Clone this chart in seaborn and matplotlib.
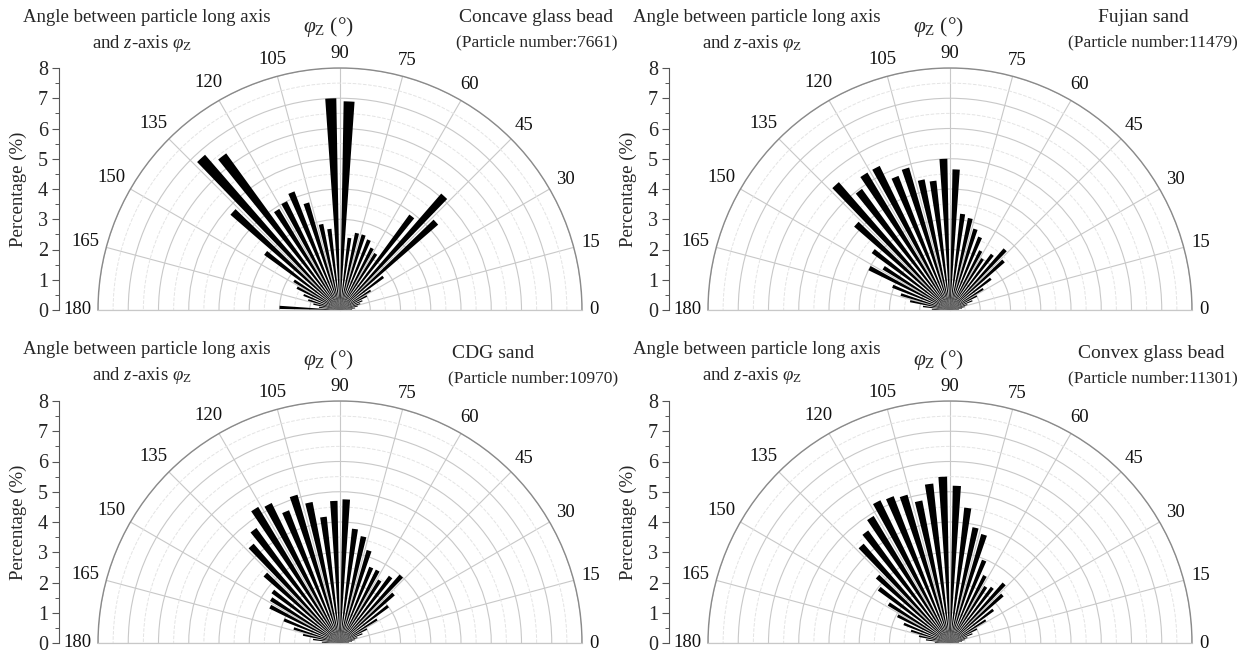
import numpy as np
import pandas as pd
import matplotlib
matplotlib.use("Agg")
import matplotlib.pyplot as plt
import seaborn as sns
from matplotlib.ticker import MultipleLocator, FixedLocator

# 5-degree orientation bins (bin centres, degrees)
bin_centers = np.arange(2.5, 180, 5)

# Percentage of particles per bin, ordered from 2.5 to 177.5 degrees
concave_glass_bead = [0.4, 0.5, 0.6, 0.7, 0.8, 1.0, 1.2, 1.8, 4.3, 5.1, 3.9, 2.2,
                      2.3, 2.5, 2.6, 2.6, 2.4, 6.9, 7.0, 2.7, 2.9, 3.7, 4.2, 4.0,
                      3.9, 6.4, 6.8, 4.8, 3.1, 1.8, 1.6, 1.3, 1.1, 0.9, 0.7, 2.0]
fujian_sand = [0.3, 0.4, 0.5, 0.6, 0.8, 1.0, 1.3, 1.7, 2.4, 2.7, 2.3, 2.0,
               2.2, 2.6, 2.8, 3.1, 3.2, 4.65, 5.0, 4.3, 4.4, 4.9, 4.75, 5.3,
               5.3, 4.95, 5.6, 4.2, 3.2, 2.6, 3.0, 2.05, 1.7, 1.35, 0.9, 0.6]
cdg_sand = [0.3, 0.4, 0.5, 0.6, 0.8, 1.0, 1.45, 2.0, 2.4, 3.0, 2.75, 2.45,
            2.7, 2.7, 3.2, 3.6, 3.8, 4.75, 4.7, 4.2, 4.75, 5.1, 4.7, 5.15,
            5.25, 4.7, 4.35, 3.35, 2.8, 2.7, 2.6, 2.0, 1.6, 1.25, 0.9, 0.6]
convex_glass_bead = [0.3, 0.4, 0.5, 0.6, 0.8, 1.0, 1.4, 1.8, 2.35, 2.65, 2.3, 2.2,
                     2.5, 2.95, 3.75, 3.9, 4.5, 5.2, 5.5, 5.3, 4.8, 5.1, 5.2, 5.25,
                     4.9, 4.6, 4.35, 3.25, 2.95, 2.4, 1.95, 1.65, 1.35, 1.05, 0.8, 0.5]

panel_values = [concave_glass_bead, fujian_sand, cdg_sand, convex_glass_bead]
panel_names = ["Concave glass bead", "Fujian sand", "CDG sand", "Convex glass bead"]
particle_counts = [7661, 11479, 10970, 11301]

theta_ticks = list(range(0, 181, 15))
r_ticks = list(range(0, 9))

sns.set_theme(style="white")
plt.rcParams["font.family"] = ["Liberation Serif", "DejaVu Serif"]
plt.rcParams["mathtext.fontset"] = "custom"
plt.rcParams["mathtext.rm"] = "Liberation Serif"
plt.rcParams["mathtext.it"] = "Liberation Serif:italic"

W, H = 1242, 657
fig = plt.figure(figsize=(W / 100, H / 100), dpi=100)
fig.patch.set_facecolor("white")

R = 242              # radius of the rose in pixels
PX_PER_PCT = R / 8   # pixels per percentage unit along the radius
THETA_FS = 13.5      # angle label size (pt)
centers = [(340, 310), (950, 310), (340, 643), (950, 643)]
# sample name: (x, y, horizontal alignment); particle count line is right-aligned
name_pos = [(613, 17, "right"), (1143, 17, "center"),
            (493, 353, "center"), (1151, 353, "center")]
count_pos = [(618, 42), (1238, 42), (618, 378), (1238, 378)]


def fx(x):
    return x / W


def fy(y):
    return 1 - y / H


def label_radius(angle_deg, text):
    """Radius (data units) that keeps an angle label a fixed gap outside the rim."""
    em = THETA_FS * 100 / 72
    half_w = 0.5 * len(text) * 0.45 * em
    half_h = 0.36 * em
    a = np.deg2rad(angle_deg)
    reach = abs(np.cos(a)) * half_w + abs(np.sin(a)) * half_h
    return 8 + (8 + reach) / PX_PER_PCT


for i, (cx, cy) in enumerate(centers):
    dx, dy = cx - 340, cy - 310

    # A half-circle polar axes is laid out inside a square box whose
    # middle half holds the wedge.
    ax = fig.add_axes([fx(cx - R), fy(cy + R / 2), 2 * R / W, 2 * R / H],
                      projection="polar")
    ax.set_thetamin(0)
    ax.set_thetamax(180)

    df = pd.DataFrame({"theta": np.deg2rad(bin_centers), "pct": panel_values[i]})
    sns.barplot(data=df, x="theta", y="pct", orient="x", native_scale=True,
                width=0.6, color="black", saturation=1, errorbar=None,
                linewidth=0, ax=ax, zorder=3)

    ax.set_xlabel("")
    ax.set_ylabel("")
    ax.set_rlim(0, 8)
    ax.set_rticks(r_ticks)
    ax.set_yticklabels([])
    ax.yaxis.set_minor_locator(MultipleLocator(0.5))
    ax.set_thetagrids(theta_ticks, labels=[""] * len(theta_ticks))
    ax.xaxis.set_minor_locator(FixedLocator(np.deg2rad(np.arange(7.5, 180, 15))))
    ax.tick_params(axis="x", which="minor", length=3, direction="in",
                   color="#888888")
    ax.grid(which="major", color="#c8c8c8", lw=0.8, ls="-")
    ax.grid(which="minor", axis="y", color="#e4e4e4", lw=0.7, ls="--")
    ax.set_axisbelow(True)
    ax.spines["polar"].set_color("#8a8a8a")
    ax.spines["polar"].set_linewidth(1.0)
    for s in ("start", "end"):
        ax.spines[s].set_color("#c8c8c8")
        ax.spines[s].set_linewidth(0.9)
    ax.spines["inner"].set_visible(False)
    ax.set_facecolor("white")

    # angle labels centred just outside the rim
    for t in theta_ticks:
        ax.text(np.deg2rad(t), label_radius(t, str(t)), str(t),
                ha="center", va="center", fontsize=THETA_FS,
                color="#111111", clip_on=False)

    # Linear percentage scale on the left of each rose
    yax = fig.add_axes([fx(cx - 281), fy(cy), 0.0005, R / H])
    yax.set_ylim(0, 8)
    yax.set_yticks(r_ticks)
    yax.yaxis.set_minor_locator(MultipleLocator(0.5))
    yax.set_xticks([])
    for s in ("top", "right", "bottom"):
        yax.spines[s].set_visible(False)
    yax.spines["left"].set_color("#555555")
    yax.spines["left"].set_linewidth(0.8)
    yax.tick_params(axis="y", which="major", direction="out", length=5,
                    width=0.8, color="#555555", labelsize=14.5, pad=3,
                    left=True)
    yax.tick_params(axis="y", which="minor", direction="out", length=3,
                    width=0.7, color="#555555", left=True)
    yax.patch.set_alpha(0)

    fig.text(fx(18 + dx), fy(cy - 121), "Percentage (%)", rotation=90,
             ha="center", va="center", fontsize=13.5)

    fig.text(fx(147 + dx), fy(17 + dy), "Angle between particle long axis",
             ha="center", va="center", fontsize=13.5)
    fig.text(fx(142 + dx), fy(43 + dy), r"and $z$-axis $\varphi_{\mathrm{Z}}$",
             ha="center", va="center", fontsize=13.5)
    fig.text(fx(328 + dx), fy(27 + dy), r"$\varphi_{\mathrm{Z}}$ (°)",
             ha="center", va="center", fontsize=15.5)
    nx, ny, nha = name_pos[i]
    fig.text(fx(nx), fy(ny), panel_names[i], ha=nha, va="center",
             fontsize=14)
    px, py = count_pos[i]
    fig.text(fx(px), fy(py), f"(Particle number:{particle_counts[i]})",
             ha="right", va="center", fontsize=12.5)

fig.savefig("out.png", dpi=100, facecolor="white")
